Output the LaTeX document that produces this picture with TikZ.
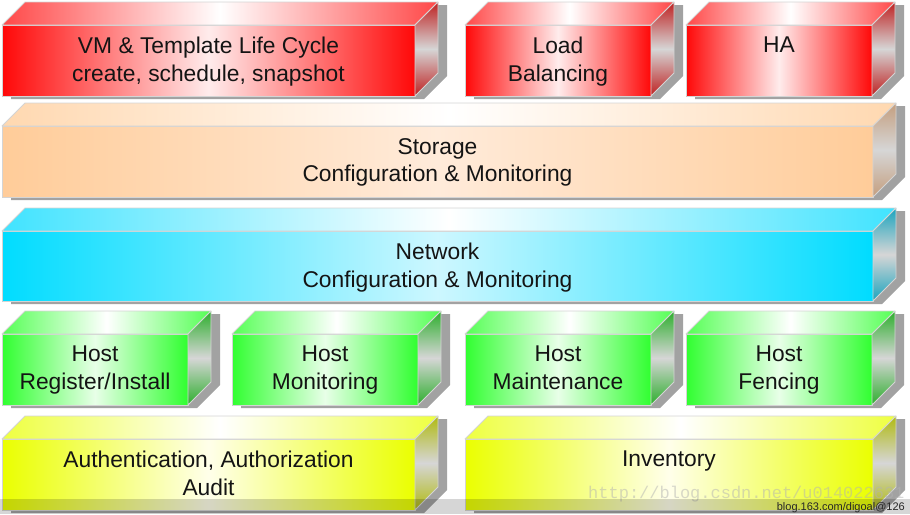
\documentclass[tikz,border=0pt]{standalone}
\usepackage{fontspec}
\setmainfont{Liberation Sans}
\newfontfamily\markfont{Liberation Mono}
\usetikzlibrary{positioning}

% colours of the five kinds of slabs
\definecolor{rededge}{HTML}{FF0808}
\definecolor{redmid}{HTML}{FFECEC}
\definecolor{redtop}{HTML}{FF4848}
\definecolor{redside}{HTML}{BE2020}
\definecolor{peachedge}{HTML}{FFCC99}
\definecolor{peachmid}{HTML}{FFEBDA}
\definecolor{peachtop}{HTML}{FFD8B0}
\definecolor{peachside}{HTML}{C49E7E}
\definecolor{cyanedge}{HTML}{00DCFF}
\definecolor{cyanmid}{HTML}{CDF7FF}
\definecolor{cyantop}{HTML}{40E3FF}
\definecolor{cyanside}{HTML}{1AA4BE}
\definecolor{greenedge}{HTML}{30FF30}
\definecolor{greenmid}{HTML}{E8FFE8}
\definecolor{greentop}{HTML}{55FF55}
\definecolor{greenside}{HTML}{2CAE2C}
\definecolor{yellowedge}{HTML}{EAFF00}
\definecolor{yellowmid}{HTML}{FFFFEA}
\definecolor{yellowtop}{HTML}{EEFF40}
\definecolor{yellowside}{HTML}{B0BA10}
\definecolor{sidemid}{HTML}{D6D6D6}
\definecolor{facerim}{HTML}{D4D4D4}
\definecolor{castgray}{HTML}{A2A2A2}

\tikzset{
    face/.style={draw=facerim, line width=0.8pt, line join=round}, % the three visible faces
    cast/.style={fill=castgray}, % the shadow behind each slab
    box text/.style={anchor=north, inner sep=0pt, align=center, text=black!92,
        font=\fontsize{22.8}{27.5}\selectfont}, % the label on the front face
}

% #1 name, #2 left, #3 top, #4 right, #5 bottom of the front face, #6 colour, #7 text
\newcommand{\slab}[7]{%
    \fill[cast, shift={(9,3)}] (#2,#3) -- (#2+23,#3-23) -- (#4+23,#3-23)
        -- (#4+23,#5-23) -- (#4,#5) -- (#2,#5) -- cycle;
    \draw[face, left color=#6edge, right color=#6edge, middle color=#6mid]
        (#2,#3) rectangle (#4,#5);
    \draw[face, left color=#6top, right color=#6top, middle color=white]
        (#2,#3) -- (#2+23,#3-23) -- (#4+23,#3-23) -- (#4,#3) -- cycle;
    \draw[face, top color=#6side, bottom color=#6side, middle color=sidemid]
        (#4,#3) -- (#4+23,#3-23) -- (#4+23,#5-23) -- (#4,#5) -- cycle;
    \node[box text] (#1) at ({(#2+#4)/2},#3+12) {#7};
}

\begin{document}
\begin{tikzpicture}[x=1pt, y=-1pt]
    \useasboundingbox (0,0) rectangle (910,514);
    % management
    \slab{vm}{2}{25}{415}{96}{red}{VM \& Template Life Cycle\\create, schedule, snapshot}
    \slab{lb}{465}{25}{651}{96}{red}{Load\\Balancing}
    \slab{ha}{686}{25}{872}{96}{red}{HA}
    % storage and network
    \slab{storage}{2}{126}{873}{197}{peach}{Storage\\Configuration \& Monitoring}
    \slab{network}{2}{231}{873}{301}{cyan}{Network\\Configuration \& Monitoring}
    % hosts
    \slab{hostreg}{2}{334}{188}{405}{green}{Host\\Register/Install}
    \slab{hostmon}{232}{334}{418}{405}{green}{Host\\Monitoring}
    \slab{hostmnt}{465}{334}{651}{405}{green}{Host\\Maintenance}
    \slab{hostfen}{686}{334}{872}{405}{green}{Host\\Fencing}
    % base
    \slab{auth}{2}{439}{415}{510}{yellow}{Authentication, Authorization\\Audit}
    \slab{inv}{465}{439}{873}{510}{yellow}{Inventory}
    % watermarks
    \node[anchor=base west, inner sep=0pt, text=gray!60, opacity=0.5,
        font=\markfont\fontsize{17}{18}\selectfont] (csdn) at (588,498)
        {http://blog.csdn.net/u014022631};
    \fill[black, opacity=0.16] (0,499) rectangle (910,514);
    \node[anchor=base east, inner sep=0pt, text=black!85,
        font=\fontsize{11}{12}\selectfont] (blog) at (905,510.5) {blog.163.com/digoal@126};
\end{tikzpicture}
\end{document}
